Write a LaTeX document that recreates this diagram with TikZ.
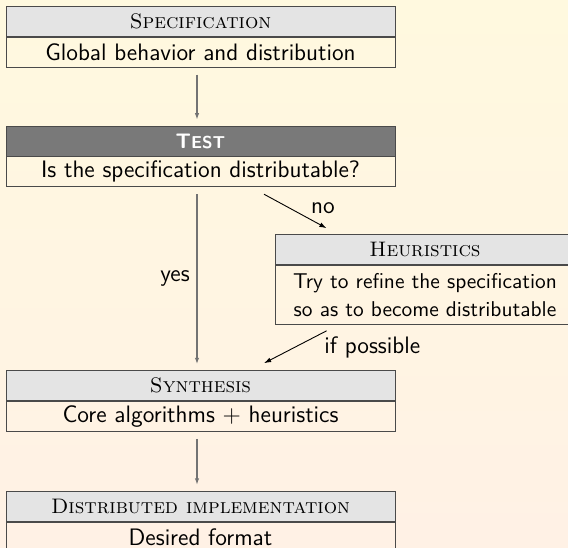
\documentclass[tikz,border=0pt]{standalone}
\usetikzlibrary{arrows.meta,positioning}
\definecolor{bgtop}{HTML}{FFF9DF}
\definecolor{bgbot}{HTML}{FFF1E5}
\definecolor{band}{HTML}{E4E4E4}
\definecolor{banddark}{HTML}{797979}
\definecolor{frame}{HTML}{4A4A4A}

\begin{document}
\begin{tikzpicture}[x=0.5pt,y=0.5pt,node distance=29pt,
    font=\sffamily\fontsize{11.9}{13.6}\selectfont,
    ttl/.style={draw=frame,fill=band,minimum width=194.5pt,minimum height=15pt,inner sep=0pt,font=\rmfamily\fontsize{10.5}{12.6}\selectfont},
    txt/.style={draw=frame,minimum width=194.5pt,minimum height=15pt,inner sep=0pt,align=center},
    down/.style={-{Latex[length=3.2pt,width=2.2pt]},draw=black!55,line width=0.6pt,shorten <=3.5pt,shorten >=3pt},
    side/.style={-{Latex[length=3.6pt,width=2.4pt]},line width=0.45pt}]
  \shade[top color=bgtop,bottom color=bgbot] (0,0) rectangle (568,-547);
  \useasboundingbox (0,0) rectangle (568,-547);
  % main column
  \node[ttl,anchor=north] (spec) at (200.5,-6) {\textsc{Specification}};
  \node[txt,below=0pt of spec] (spectxt) {Global behavior and distribution};
  \node[ttl,fill=banddark,text=white,font=\sffamily\bfseries\fontsize{10.5}{12.6}\selectfont,below=of spectxt] (test) {T\fontsize{8.6}{10}\selectfont EST};
  \node[txt,below=0pt of test] (testtxt) {Is the specification distributable?};
  \node[ttl,below=91.5pt of testtxt] (synth) {\textsc{Synthesis}};
  \node[txt,below=0pt of synth] (synthtxt) {Core algorithms $+$ heuristics};
  \node[ttl,below=29.5pt of synthtxt] (impl) {\textsc{Distributed implementation}};
  \node[txt,below=0pt of impl] (impltxt) {Desired format};
  % side branch
  \node[ttl,anchor=north west,minimum width=149.3pt] (heur) at ([xshift=134.85pt,yshift=-23.5pt]testtxt.south west) {\textsc{Heuristics}};
  \node[txt,below=0pt of heur,minimum width=149.3pt,minimum height=29.5pt,font=\sffamily\fontsize{10.7}{14.2}\selectfont] (heurtxt) {Try to refine the specification\\so as to become distributable};
  % connectors
  \draw[down] ([xshift=-1.75pt]spectxt.south) -- ([xshift=-1.75pt]test.north);
  \draw[down] ([xshift=-1.75pt]testtxt.south) -- node[left]{yes} ([xshift=-1.75pt]synth.north);
  \draw[down] ([xshift=-1.75pt]synthtxt.south) -- ([xshift=-1.75pt]impl.north);
  \draw[side] ([xshift=31.75pt,yshift=-3.5pt]testtxt.south) -- node[pos=0.4,right=7.5pt]{no} ([xshift=25.65pt,yshift=3pt]heur.north west);
  \draw[side] ([xshift=25.65pt,yshift=-3pt]heurtxt.south west) -- node[midway,right=11pt]{if possible} ([xshift=31.75pt,yshift=3.5pt]synth.north);
\end{tikzpicture}
\end{document}
